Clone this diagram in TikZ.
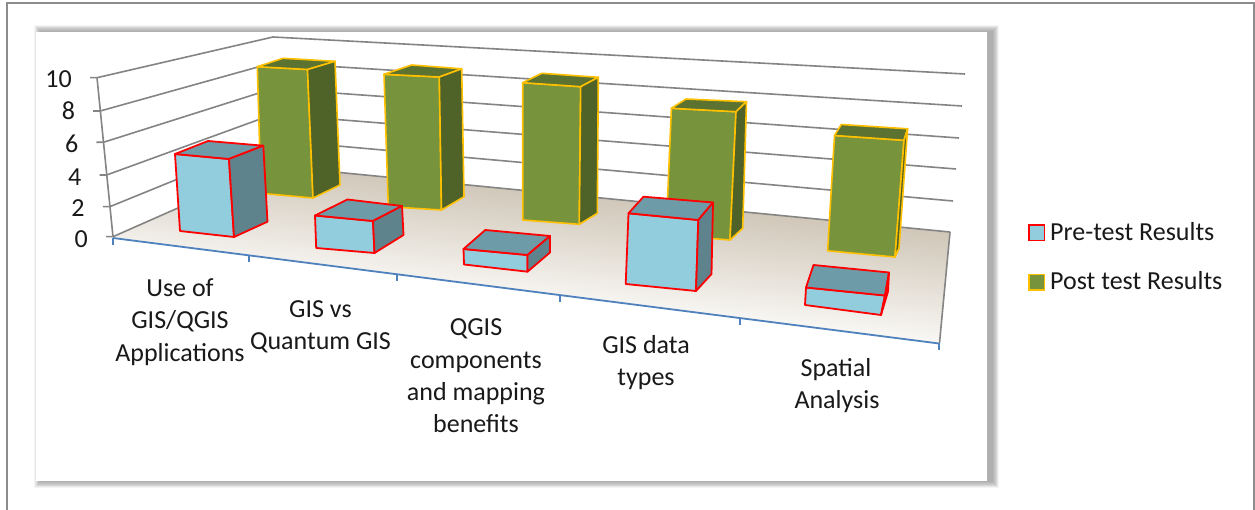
\documentclass[tikz,border=0pt]{standalone}
\usepackage{fontspec}
\setmainfont{Carlito}
\definecolor{cFrame}{HTML}{8C8C8C}
\definecolor{cGrid}{HTML}{848484}
\definecolor{cAxis}{HTML}{4F81BD}
\definecolor{cBF}{HTML}{92CDDD}
\definecolor{cBT}{HTML}{6E9BA8}
\definecolor{cBS}{HTML}{5E838D}
\definecolor{cBE}{HTML}{FF0000}
\definecolor{cGF}{HTML}{77933C}
\definecolor{cGT}{HTML}{5B7230}
\definecolor{cGS}{HTML}{4F6228}
\definecolor{cGE}{HTML}{FFC000}
\definecolor{cFlB}{HTML}{BDB19E}
\definecolor{cFlM}{HTML}{DDD6CB}
\definecolor{cFlW}{HTML}{FAF9F6}
\definecolor{cFlF}{HTML}{D6CDBF}
\pgfdeclareverticalshading{floorsh}{100bp}{color(0bp)=(cFlF); color(25bp)=(cFlF); color(28bp)=(cFlW); color(40bp)=(cFlW); color(56bp)=(cFlM); color(75bp)=(cFlB); color(100bp)=(cFlB)}
\newcommand\mybar[8]{%
  \filldraw[#1front] #2 -- #3 -- #4 -- #5 -- cycle;
  \filldraw[#1top] #2 -- #3 -- #7 -- #6 -- cycle;
  \filldraw[#1side] #3 -- #7 -- #8 -- #4 -- cycle;}
\begin{document}
\begin{tikzpicture}[x=1pt,y=-1pt,
  gfront/.style={fill=cGF,draw=cGE,line width=1.6pt,line join=round},
  gtop/.style={fill=cGT,draw=cGE,line width=1.6pt,line join=round},
  gside/.style={fill=cGS,draw=cGE,line width=1.6pt,line join=round},
  bfront/.style={fill=cBF,draw=cBE,line width=1.8pt,line join=round},
  btop/.style={fill=cBT,draw=cBE,line width=1.8pt,line join=round},
  bside/.style={fill=cBS,draw=cBE,line width=1.8pt,line join=round},
  gridline/.style={draw=cGrid,line width=1.6pt},
  axisline/.style={draw=cAxis,line width=1.8pt},
  lbl/.style={font=\fontsize{26}{32}\selectfont,text=black!90,inner sep=0pt,anchor=base},
  ylbl/.style={font=\fontsize{26}{32}\selectfont,text=black!90,inner sep=0pt,anchor=base east},
  leglbl/.style={font=\fontsize{26}{32}\selectfont,text=black!90,inner sep=0pt,anchor=base west}]
\useasboundingbox (0,0) rectangle (1255,510);
\fill[white] (0,0) rectangle (1255,510);
% outer frame
\draw[cFrame,line width=2pt] (7,520) -- (7,3) -- (1253.5,3) -- (1253.5,520);
% panel shadow
\foreach \k in {1,...,8}
  \fill[black,opacity=0.045] (41-\k*0.9,32-\k*0.9) rectangle (992+\k*0.9,481+\k*0.9);
\fill[white] (36,32) rectangle (987,481);
% floor
\shade[shading=floorsh,shading angle=-6] (113,237) -- (273,166) -- (950,232) -- (939,343) -- cycle;
% grid lines: left wall and back wall
\foreach \ax/\ay/\by/\rx/\ry in {97/77.7/37/965/74, 100.2/111/62.8/962/106, 103.4/142.3/88.6/959/138, 106.6/175/114.4/956/169, 109.8/206.7/140.2/953/201, 113/236.7/166/950/232}{
  \draw[gridline] (\ax-7,\ay) -- (\ax,\ay) -- (273,\by) -- (\rx,\ry);
}
\draw[gridline] (97,77.7) -- (113,236.7);
\draw[gridline] (950,232) -- (939.5,343);
% front axis
\draw[axisline] (113,238) -- (939,343.5);
\foreach \tx/\ty in {113/238, 249/255.4, 397/274.3, 560/295.1, 740/318.1, 939/343.5}
  \draw[axisline] (\tx,\ty) -- (\tx,\ty+7);
% post test bars (back row)
\mybar{g}{(257.3,66.7)}{(307.5,69.5)}{(313,198)}{(261,193.3)}{(283,58.3)}{(335,61.3)}{(340,185)}
\mybar{g}{(384,74.3)}{(439.3,77)}{(441.5,210)}{(388.3,206.7)}{(411.7,65)}{(461.7,68.8)}{(464,196.7)}
\mybar{g}{(522.7,82.7)}{(580.7,86.7)}{(579.3,224.3)}{(522.7,220)}{(541.7,73.3)}{(598.3,77.3)}{(597.3,213.3)}
\mybar{g}{(671.4,108.3)}{(736,111.7)}{(730,240)}{(666,234.6)}{(686,99)}{(746.5,101.7)}{(742.7,228.3)}
\mybar{g}{(834.5,135.5)}{(904,140.3)}{(895,257)}{(827.6,250.8)}{(841.3,124.5)}{(907.6,128.8)}{(899,248.3)}
% pre-test bars (front row)
\mybar{b}{(175,154)}{(229,159)}{(234,237)}{(180,231)}{(208,141)}{(263.3,145.7)}{(267.5,221.7)}
\mybar{b}{(315,215.5)}{(373,221)}{(374.5,253)}{(316.2,248)}{(347.5,199.5)}{(402,206)}{(403.5,235)}
\mybar{b}{(463.5,249)}{(527.5,255)}{(527.5,271.7)}{(464,264.5)}{(485.3,230)}{(550,236)}{(550,252.5)}
\mybar{b}{(628.5,213.3)}{(698.3,220)}{(696,291)}{(625.7,284)}{(643.5,196.7)}{(713,202.5)}{(711.5,274)}
\mybar{b}{(806,287.5)}{(885,295.5)}{(881,315)}{(805,305)}{(813.5,265)}{(889,272.5)}{(888,291.5)}
% y-axis labels
\node[ylbl] (y10) at (72,87.5) {10};
\node[ylbl] (y8) at (75.2,120) {8};
\node[ylbl] (y6) at (78.4,153) {6};
\node[ylbl] (y4) at (81.6,185.5) {4};
\node[ylbl] (y2) at (84.8,217) {2};
\node[ylbl] (y0) at (88,248) {0};
% category labels
\node[lbl] (c1a) at (180,296.5) {Use of};
\node[lbl] (c1b) at (180,329) {GIS/QGIS};
\node[lbl] (c1c) at (180,361.5) {Applications};
\node[lbl] (c2a) at (320.5,317.5) {GIS vs};
\node[lbl] (c2b) at (320.5,349) {Quantum GIS};
\node[lbl] (c3a) at (476,336) {QGIS};
\node[lbl] (c3b) at (476,368) {components};
\node[lbl] (c3c) at (476,400) {and mapping};
\node[lbl] (c3d) at (476,432) {benefits};
\node[lbl] (c4a) at (646,353.5) {GIS data};
\node[lbl] (c4b) at (646,385) {types};
\node[lbl] (c5a) at (836,376.5) {Spatial};
\node[lbl] (c5b) at (837,408.5) {Analysis};
% legend
\filldraw[fill=cBF,draw=cBE,line width=1.8pt] (1029,225) rectangle (1044.5,240.5);
\node[leglbl] (lg1) at (1050,241) {Pre-test Results};
\filldraw[fill=cGF,draw=cGE,line width=1.8pt] (1029,274.5) rectangle (1044.5,290);
\node[leglbl] (lg2) at (1050,290) {Post test Results};
\end{tikzpicture}
\end{document}
